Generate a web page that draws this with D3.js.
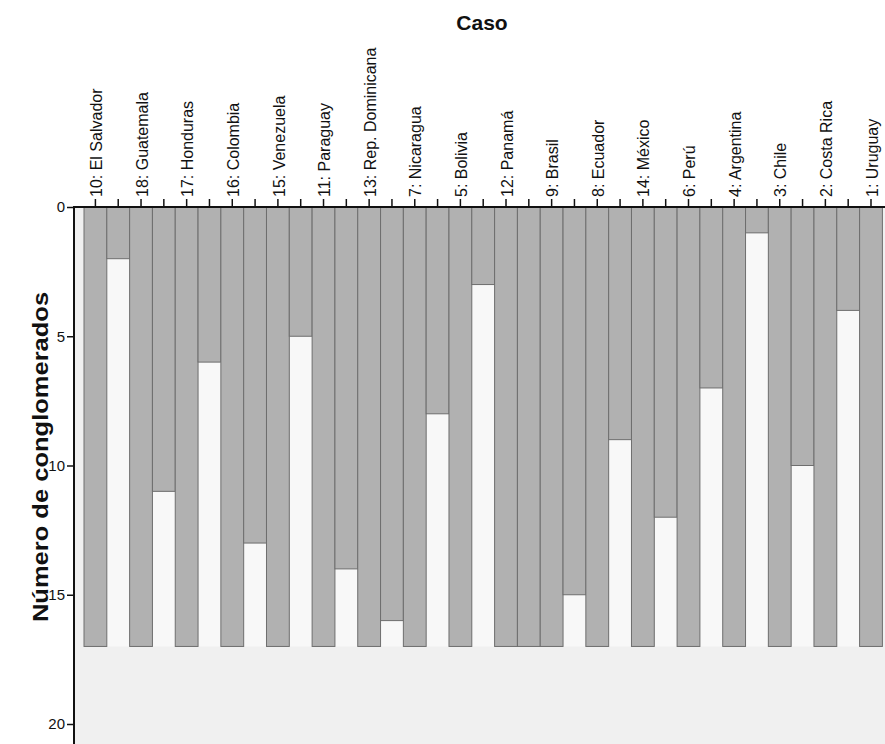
<!DOCTYPE html>
<html>
<head>
<meta charset="utf-8">
<script src="https://cdn.jsdelivr.net/npm/d3@7"></script>
<style>
  body { margin: 0; background: #fff; }
  svg text { font-family: "Liberation Sans", Arial, sans-serif; fill: #111; }
</style>
</head>
<body>
<svg id="chart" width="885" height="744"></svg>
<script>
// cases in icicle order, and the cluster count at which each neighbouring pair splits
const cases = ['10: El Salvador', '18: Guatemala', '17: Honduras', '16: Colombia', '15: Venezuela',
  '11: Paraguay', '13: Rep. Dominicana', '7: Nicaragua', '5: Bolivia', '12: Panamá', '9: Brasil',
  '8: Ecuador', '14: México', '6: Perú', '4: Argentina', '3: Chile', '2: Costa Rica', '1: Uruguay'];
const joins = [2, 11, 6, 13, 5, 14, 16, 8, 3, 17, 15, 9, 12, 7, 1, 10, 4];
const maxClusters = 17;
const yTicks = [0, 5, 10, 15, 20];

const svg = d3.select('#chart');

// one column per case plus one between each pair
const columns = [];
cases.forEach((c, i) => {
  columns.push({ id: 'c' + i, type: 'case', value: maxClusters, label: c });
  if (i < joins.length) columns.push({ id: 'g' + i, type: 'gap', value: joins[i] });
});

const x = d3.scaleBand()
  .domain(columns.map(d => d.id))
  .range([84, 882.4])
  .padding(0);

const y = d3.scaleLinear()
  .domain([0, 20])
  .range([207, 724]);

// plot background
svg.append('rect')
  .attr('x', 75).attr('y', y(0))
  .attr('width', 885 - 75).attr('height', 744 - y(0))
  .attr('fill', '#f0f0f0');

// light part of gap columns
svg.selectAll('.gapfill')
  .data(columns.filter(d => d.type === 'gap' && d.value < maxClusters))
  .enter()
  .append('rect')
  .attr('x', d => x(d.id))
  .attr('y', d => y(d.value))
  .attr('width', x.bandwidth())
  .attr('height', d => y(maxClusters) - y(d.value))
  .attr('fill', '#f8f8f8');

// gray bars
svg.selectAll('.bar')
  .data(columns)
  .enter()
  .append('rect')
  .attr('x', d => x(d.id))
  .attr('y', y(0))
  .attr('width', x.bandwidth())
  .attr('height', d => y(d.value) - y(0))
  .attr('fill', '#b1b1b1')
  .attr('stroke', '#6e6e6e')
  .attr('stroke-width', 1);

// top axis with ticks at every column
const topAxis = svg.append('g')
  .attr('transform', 'translate(0,' + y(0) + ')')
  .call(d3.axisTop(x).tickSize(8).tickFormat(''));
topAxis.select('.domain').remove();
topAxis.selectAll('.tick line').attr('stroke', '#111').attr('stroke-width', 1.5);
svg.append('line')
  .attr('x1', 74).attr('x2', 885)
  .attr('y1', y(0)).attr('y2', y(0))
  .attr('stroke', '#111').attr('stroke-width', 2);

// case labels
svg.selectAll('.caselabel')
  .data(columns.filter(d => d.type === 'case'))
  .enter()
  .append('text')
  .attr('transform', d => 'translate(' + (x(d.id) + x.bandwidth() / 2 + 1) + ',197)rotate(-90)')
  .attr('dy', '0.35em')
  .attr('text-anchor', 'start')
  .style('font-size', '16px')
  .text(d => d.label);

// left axis
const leftAxis = svg.append('g')
  .attr('transform', 'translate(74,0)')
  .call(d3.axisLeft(y).tickValues(yTicks).tickSize(7).tickPadding(2));
leftAxis.select('.domain').remove();
leftAxis.selectAll('.tick line').attr('stroke', '#111').attr('stroke-width', 1.5);
leftAxis.selectAll('.tick text').style('font-size', '15px').attr('fill', '#111');
svg.append('line')
  .attr('x1', 74).attr('x2', 74)
  .attr('y1', y(0) - 1).attr('y2', 744)
  .attr('stroke', '#111').attr('stroke-width', 2);

// titles
svg.append('text')
  .attr('x', 482).attr('y', 30)
  .attr('text-anchor', 'middle')
  .style('font-size', '21px').style('font-weight', 'bold')
  .text('Caso');

svg.append('text')
  .attr('transform', 'translate(48,457)rotate(-90)scale(1.16,1)')
  .attr('text-anchor', 'middle')
  .style('font-size', '22px').style('font-weight', 'bold')
  .text('Número de conglomerados');
</script>
</body>
</html>
